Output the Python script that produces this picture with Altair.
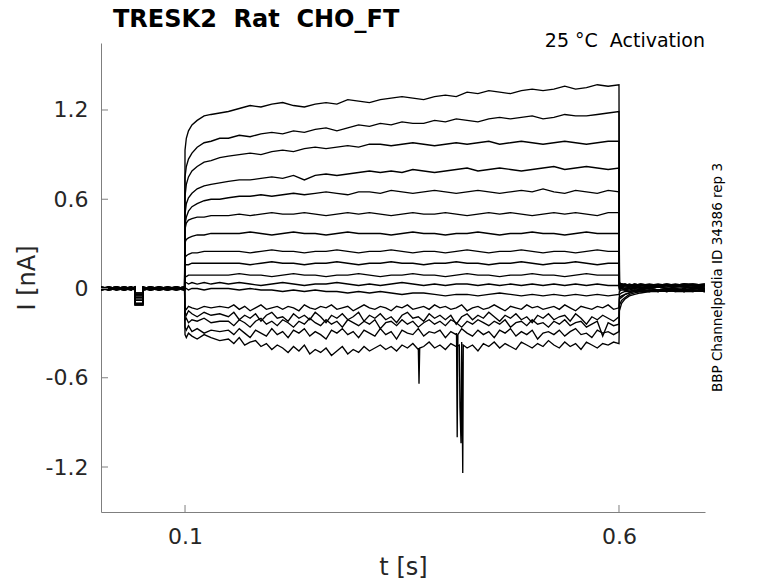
import altair as alt
import pandas as pd

# ---------------- data (current in units of 0.01 nA, time in s) ----------------
T_BASE = [0.0032, 0.012, 0.021, 0.030, 0.038, 0.0424, 0.0516, 0.060, 0.070, 0.080, 0.090, 0.0995]
T_DIP = [0.0425, 0.0515]
T_ON = [0.1, 0.1015, 0.104, 0.108, 0.114, 0.122, 0.13, 0.14]
T_STEP = [round(0.15 + 0.0125 * k, 4) for k in range(37)]      # coarse sampling, traces 1-12
T_FINE = [round(0.15 + 0.00625 * k, 5) for k in range(73)]     # finer sampling, noisy traces 13-17
T_TAIL = [0.6005, 0.603, 0.607, 0.612, 0.618, 0.625, 0.635, 0.645, 0.655, 0.665, 0.675, 0.685, 0.699]

BASE = {
    1: [1, 0, 1, -1, 0, 1, 0, 1, -1, 0, 1, 0],
    2: [0, 1, -1, 0, 1, 0, -1, 0, 1, 0, -1, 1],
    3: [-1, 0, 0, 1, -1, 0, 1, -1, 0, 1, 0, -1],
    4: [1, -1, 0, 0, 1, -1, 0, 1, 0, -1, 1, 0],
    5: [0, 0, 1, -1, 0, 0, 1, 0, -1, 1, 0, 1],
    6: [-1, 1, 0, 1, 0, -1, 0, -1, 1, 0, 0, -1],
    7: [0, -1, 1, 0, -1, 1, 0, 0, 1, -1, 0, 1],
    8: [1, 0, -1, 1, 0, 0, -1, 1, 0, 0, 1, -1],
    9: [0, 1, 0, -1, 1, 0, 1, 0, -1, 0, 1, 0],
    10: [-1, 0, 1, 0, 0, 1, 0, -1, 0, 1, -1, 0],
    11: [1, 0, 0, -1, 1, -1, 0, 1, 0, -1, 0, 1],
    12: [0, -1, 0, 1, 0, 0, 1, -1, 1, 0, 0, -1],
    13: [-1, 1, -1, 0, 1, 0, 0, 1, -1, 0, 1, 0],
    14: [0, 0, 1, 0, -1, 1, -1, 0, 0, 1, 0, 1],
    15: [1, -1, 0, 1, 0, -1, 0, 1, 0, -1, 1, -1],
    16: [0, 1, 0, -1, 0, 1, 1, -1, 0, 0, -1, 0],
    17: [-1, 0, 1, 0, 1, 0, -1, 0, 1, 0, 0, 1],
}

DIP = [-3, -3, -4, -5, -5, -6, -7, -8, -8, -8, -10, -10, -10, -11, -11, -11, -11]

ONSET = {
    1: [93, 101, 106, 110, 113, 116, 117, 118],
    2: [75, 82, 87, 91, 95, 98, 99, 101],
    3: [62, 70, 75, 79, 82, 85, 86, 88],
    4: [50, 57, 61, 64, 67, 69, 70, 71],
    5: [43, 48, 52, 55, 57, 59, 60, 60],
    6: [40, 44, 46, 47, 48, 48, 49, 49],
    7: [31, 33, 34, 35, 36, 36, 37, 37],
    8: [21, 22, 23, 24, 24, 25, 25, 25],
    9: [16, 16, 16, 17, 17, 17, 17, 17],
    10: [8, 8, 9, 9, 9, 9, 9, 9],
    11: [4, 4, 3, 4, 3, 4, 3, 4],
    12: [0, 0, -1, 0, 0, -1, 0, 0],
    13: [-13, -14, -12, -13, -14, -12, -13, -12],
    14: [-16, -18, -15, -17, -19, -16, -18, -17],
    15: [-21, -20, -23, -21, -22, -20, -23, -22],
    16: [-26, -28, -25, -29, -27, -30, -28, -29],
    17: [-31, -33, -30, -32, -34, -31, -33, -35],
}

STEP = {
    1: [119, 121, 123, 122, 124, 125, 123, 122, 124, 125,
        124, 127, 126, 125, 127, 128, 129, 128, 127, 129,
        130, 129, 132, 131, 133, 132, 131, 133, 134, 133,
        134, 136, 134, 135, 137, 136, 137],
    2: [101, 103, 102, 104, 105, 104, 106, 105, 107, 108,
        106, 108, 110, 109, 111, 110, 112, 111, 111, 113,
        112, 114, 113, 112, 114, 115, 114, 115, 116, 114,
        115, 117, 116, 116, 117, 118, 119],
    3: [89, 90, 91, 90, 92, 93, 92, 94, 95, 94,
        95, 96, 95, 97, 97, 96, 97, 98, 97, 96,
        97, 98, 97, 98, 99, 97, 98, 99, 98, 97,
        98, 99, 98, 97, 98, 99, 99],
    4: [72, 73, 73, 74, 75, 74, 76, 73, 76, 77,
        76, 77, 78, 79, 78, 79, 78, 80, 79, 78,
        79, 80, 81, 79, 80, 81, 80, 79, 80, 81,
        82, 80, 81, 82, 81, 80, 81],
    5: [61, 62, 62, 63, 62, 63, 64, 63, 64, 65,
        64, 63, 65, 65, 64, 66, 65, 64, 65, 66,
        65, 64, 65, 66, 65, 64, 65, 66, 65, 67,
        65, 64, 66, 65, 64, 66, 65],
    6: [49, 50, 49, 50, 51, 50, 50, 51, 50, 49,
        50, 51, 50, 51, 50, 49, 50, 51, 50, 50,
        51, 50, 49, 50, 51, 50, 51, 50, 49, 50,
        51, 50, 51, 50, 49, 51, 51],
    7: [37, 37, 38, 37, 36, 37, 38, 37, 37, 36,
        37, 38, 37, 37, 37, 36, 37, 38, 37, 37,
        36, 37, 37, 38, 37, 36, 37, 37, 38, 37,
        37, 36, 37, 38, 37, 37, 37],
    8: [25, 25, 24, 25, 26, 25, 25, 24, 25, 25,
        26, 25, 24, 25, 25, 26, 25, 24, 25, 25,
        24, 25, 26, 25, 24, 25, 25, 26, 25, 24,
        25, 25, 24, 25, 26, 25, 25],
    9: [17, 17, 16, 17, 18, 17, 17, 16, 17, 17,
        18, 17, 16, 17, 17, 18, 17, 17, 16, 17,
        17, 18, 17, 17, 16, 17, 17, 18, 17, 16,
        17, 17, 18, 17, 16, 17, 17],
    10: [9, 10, 9, 9, 8, 9, 10, 9, 9, 8,
         9, 9, 10, 9, 8, 9, 9, 10, 9, 9,
         8, 9, 10, 9, 9, 8, 9, 9, 10, 9,
         9, 8, 9, 10, 9, 9, 9],
    11: [3, 4, 3, 2, 3, 4, 3, 2, 3, 3,
         4, 3, 2, 3, 2, 3, 4, 3, 2, 3,
         2, 3, 3, 2, 3, 2, 3, 2, 3, 2,
         3, 2, 3, 2, 3, 2, 2],
    12: [0, -1, 0, -1, -1, -2, -1, -2, -1, -2,
         -2, -3, -2, -3, -2, -3, -4, -3, -3, -4,
         -5, -4, -4, -5, -4, -3, -4, -5, -4, -5,
         -4, -5, -4, -5, -4, -5, -4],
}

FINE = {
    13: [-13, -11, -14, -12, -15, -13, -11, -14, -13, -12,
         -14, -12, -13, -15, -11, -13, -14, -12, -13, -11,
         -14, -13, -12, -15, -13, -11, -13, -14, -12, -13,
         -15, -12, -13, -11, -14, -13, -12, -14, -11, -13,
         -12, -14, -13, -11, -15, -13, -12, -14, -13, -11,
         -13, -15, -12, -13, -14, -11, -13, -12, -14, -13,
         -12, -14, -11, -13, -15, -12, -13, -14, -12, -13,
         -11, -14, -13],
    14: [-19, -16, -21, -18, -20, -17, -22, -18, -16, -20,
         -19, -22, -17, -20, -18, -21, -16, -19, -23, -18,
         -20, -17, -21, -19, -16, -22, -18, -20, -17, -21,
         -19, -23, -18, -16, -20, -19, -22, -17, -20, -18,
         -21, -18, -24, -19, -17, -21, -18, -20, -16, -19,
         -22, -18, -20, -17, -21, -19, -23, -18, -20, -17,
         -21, -19, -18, -22, -17, -20, -24, -19, -21, -18,
         -20, -22, -19],
    15: [-22, -25, -21, -23, -26, -22, -20, -24, -22, -25,
         -21, -23, -26, -22, -24, -20, -23, -25, -21, -24,
         -22, -26, -21, -23, -25, -22, -24, -21, -27, -23,
         -22, -25, -21, -24, -22, -26, -23, -21, -24, -22,
         -25, -21, -23, -26, -22, -24, -21, -23, -25, -22,
         -24, -21, -26, -23, -22, -25, -21, -24, -23, -26,
         -22, -24, -21, -25, -23, -22, -26, -24, -22, -32,
         -23, -25, -24],
    16: [-28, -31, -27, -30, -33, -28, -30, -32, -27, -31,
         -29, -33, -28, -30, -27, -32, -29, -31, -34, -28,
         -30, -27, -31, -29, -33, -28, -30, -32, -27, -31,
         -29, -34, -28, -30, -31, -27, -32, -29, -30, -28,
         -33, -29, -31, -27, -30, -32, -28, -31, -29, -33,
         -28, -30, -27, -32, -29, -31, -28, -34, -30, -29,
         -31, -28, -32, -29, -27, -31, -30, -33, -28, -30,
         -29, -31, -29],
    17: [-34, -37, -33, -38, -36, -35, -39, -37, -41, -38,
         -40, -43, -39, -42, -38, -44, -41, -43, -40, -45,
         -42, -39, -44, -41, -43, -39, -42, -40, -38, -41,
         -39, -42, -38, -40, -37, -41, -39, -36, -40, -38,
         -41, -37, -39, -36, -40, -38, -42, -37, -39, -36,
         -40, -37, -39, -41, -36, -38, -40, -37, -39, -35,
         -38, -40, -36, -39, -37, -41, -36, -38, -40, -37,
         -38, -36, -37],
}

TAIL = {
    1: [4, 3, 3, 2, 3, 2, 3, 2, 3, 2, 3, 2, 3],
    2: [3, 3, 2, 3, 2, 3, 2, 2, 3, 2, 3, 3, 2],
    3: [3, 2, 3, 2, 2, 3, 2, 3, 2, 2, 3, 2, 2],
    4: [2, 3, 2, 2, 3, 2, 2, 1, 2, 3, 2, 2, 3],
    5: [2, 2, 2, 1, 2, 2, 1, 2, 2, 1, 2, 3, 2],
    6: [2, 1, 2, 2, 1, 2, 1, 1, 2, 2, 1, 2, 1],
    7: [1, 2, 1, 1, 2, 1, 0, 1, 1, 2, 1, 1, 2],
    8: [1, 1, 0, 1, 1, 0, 1, 1, 0, 1, 1, 0, 1],
    9: [0, 1, 0, 0, 1, 0, 0, 1, 0, -1, 0, 1, 0],
    10: [0, 0, -1, 0, 0, 1, 0, -1, 0, 0, -1, 0, 0],
    11: [-1, 0, -1, -1, 0, -1, 0, -1, -1, 0, -1, 0, -1],
    12: [-2, -1, -1, -2, -1, -1, -2, -1, -2, -1, -1, -2, -1],
    13: [-4, -3, -2, -2, -1, -2, -1, -2, -1, -1, -2, -1, -2],
    14: [-6, -5, -4, -3, -2, -1, -2, -1, -2, -1, -2, -2, -1],
    15: [-7, -6, -4, -3, -2, -2, -1, -2, -1, -2, -1, -1, -2],
    16: [-11, -8, -6, -4, -3, -2, -2, -1, -2, -1, -2, -1, -2],
    17: [-15, -10, -7, -5, -4, -3, -2, -2, -1, -2, -2, -1, -2],
}

SPIKES = {
    16: [(0.4128, -30), (0.4136, -100), (0.4144, -31)],
    17: [(0.3688, -40), (0.3696, -64), (0.3704, -40),
         (0.4160, -38), (0.4168, -80), (0.4180, -104), (0.4200, -124), (0.4206, -38)],
}

XTICKS = [0.1, 0.6]
YTICKS = [-1.2, -0.6, 0, 0.6, 1.2]

# double spaces kept visible with a no-break space (SVG collapses plain runs)
TITLE = "TRESK2 \u00a0Rat \u00a0CHO_FT"
SUBTITLE = "25 °C \u00a0Activation"
SIDE = "BBP Channelpedia ID 34386 rep 3"

# ---------------- build long table ----------------
rows = []
for n in range(1, 18):
    b = BASE[n]
    assert len(b) == 12 and len(ONSET[n]) == 8 and len(TAIL[n]) == 13, n
    pts = list(zip(T_BASE[:6], b[:6]))
    pts += [(T_DIP[0], DIP[n - 1]), (T_DIP[1], DIP[n - 1])]
    pts += list(zip(T_BASE[6:], b[6:]))
    pts += list(zip(T_ON, ONSET[n]))
    if n in STEP:
        assert len(STEP[n]) == len(T_STEP), n
        pts += list(zip(T_STEP, STEP[n]))
    else:
        assert len(FINE[n]) == len(T_FINE), n
        pts += list(zip(T_FINE, FINE[n]))
    pts += list(zip(T_TAIL, TAIL[n]))
    pts += SPIKES.get(n, [])
    for t, v in pts:
        rows.append({"trace": n, "t": t, "i": v / 100.0})
df = pd.DataFrame(rows)

# ---------------- chart ----------------
W, H = 604, 469
AX = "#7f7f7f"
TXT = "#262626"
FONT = "DejaVu Sans"

xs = alt.Scale(domain=[0.0032, 0.6991], nice=False, zero=False)
ys = alt.Scale(domain=[-1.5025, 1.6504], nice=False, zero=False)

x_axis = alt.Axis(
    values=XTICKS, format=".1f", title="t [s]", grid=False, ticks=False, tickSize=0,
    domainColor=AX, domainWidth=1, labelFontSize=22, labelColor=TXT, labelFont=FONT,
    labelPadding=14, titleFontSize=24, titleFontWeight="normal", titleColor=TXT,
    titleFont=FONT, titlePadding=8)
y_axis = alt.Axis(
    values=YTICKS, title="I [nA]", grid=False, ticks=False, tickSize=0,
    labelExpr="datum.value < 0 ? '-' + format(-datum.value, '.1f') : (datum.value == 0 ? '0' : format(datum.value, '.1f'))",
    domainColor=AX, domainWidth=1, labelFontSize=22, labelColor=TXT, labelFont=FONT,
    labelPadding=13, titleFontSize=24, titleFontWeight="normal", titleColor=TXT,
    titleFont=FONT, titlePadding=6)

lines = alt.Chart(df).mark_line(color="black", strokeWidth=1.35, clip=True).encode(
    x=alt.X("t:Q", scale=xs, axis=x_axis),
    y=alt.Y("i:Q", scale=ys, axis=y_axis),
    detail="trace:N",
)

ytick = alt.Chart(pd.DataFrame({"v": YTICKS})).mark_rule(color=AX, strokeWidth=1).encode(
    y=alt.Y("v:Q", scale=ys, axis=y_axis), x=alt.value(0), x2=alt.value(7))
xtick = alt.Chart(pd.DataFrame({"v": XTICKS})).mark_rule(color=AX, strokeWidth=1).encode(
    x=alt.X("v:Q", scale=xs, axis=x_axis), y=alt.value(H), y2=alt.value(H - 7))

title = alt.Chart(pd.DataFrame({"s": [TITLE]})).mark_text(
    font=FONT, fontSize=24, fontWeight="bold", color="black", align="left", baseline="alphabetic"
).encode(text="s:N", x=alt.value(12), y=alt.value(-16))

sub = alt.Chart(pd.DataFrame({"s": [SUBTITLE]})).mark_text(
    font=FONT, fontSize=19, color="black", align="right", baseline="alphabetic"
).encode(text="s:N", x=alt.value(W), y=alt.value(4))

side = alt.Chart(pd.DataFrame({"s": [SIDE]})).mark_text(
    font=FONT, fontSize=13.5, color="black", align="center", baseline="middle", angle=270
).encode(text="s:N", x=alt.value(W + 13), y=alt.value(H / 2))

chart = alt.layer(lines, ytick, xtick, title, sub, side).properties(
    width=W, height=H,
    autosize=alt.AutoSizeParams(type="none"),
    padding={"left": 93, "top": 35, "right": 60, "bottom": 71},
    background="white",
).configure_view(stroke=None)

chart.save("out.html", embed_options={"renderer": "svg", "actions": False})
